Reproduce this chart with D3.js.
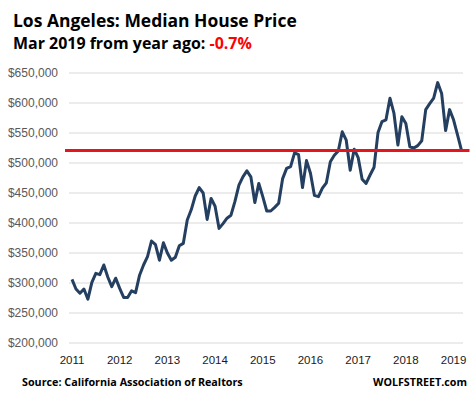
<!DOCTYPE html>
<html>
<head>
<meta charset="utf-8">
<script src="https://cdn.jsdelivr.net/npm/d3@7"></script>
<style>
  body { margin: 0; background: #fff; }
  svg { display: block; }
</style>
</head>
<body>
<div id="chart"></div>
<script>
// monthly median price, Jan 2011 .. Mar 2019 (in $)
var prices = [
  306000, 290000, 283000, 290000, 273000, 301000, 316000, 314000, 330000, 310000, 294000, 308000,
  291000, 276000, 276000, 287000, 284000, 313000, 330000, 344000, 370000, 364000, 338000, 367000,
  350000, 338000, 343000, 362000, 366000, 405000, 422000, 445000, 459000, 450000, 406000, 441000,
  428000, 391000, 399000, 408000, 413000, 436000, 463000, 477000, 487000, 477000, 434000, 466000,
  444000, 420000, 420000, 426000, 433000, 474000, 491000, 494000, 517000, 514000, 459000, 504000,
  483000, 446000, 444000, 458000, 467000, 502000, 513000, 520000, 552000, 538000, 488000, 523000,
  509000, 473000, 466000, 480000, 493000, 551000, 569000, 572000, 608000, 583000, 530000, 577000,
  566000, 527000, 525000, 529000, 537000, 589000, 599000, 608000, 634000, 616000, 554000, 589000,
  572000, 547000, 521000
];
var years = ["2011", "2012", "2013", "2014", "2015", "2016", "2017", "2018", "2019"];
var yTicks = [200000, 250000, 300000, 350000, 400000, 450000, 500000, 550000, 600000, 650000];

var width = 475, height = 395;

var svg = d3.select("#chart").append("svg")
  .attr("width", width)
  .attr("height", height);

// scales
var x = d3.scaleLinear().domain([0, prices.length - 1]).range([72, 461.5]);
var y = d3.scaleLinear().domain([200000, 650000]).range([343, 73]);

// fit text to a target width
function fit(sel, w) {
  var len = sel.node().getComputedTextLength();
  var fs = parseFloat(sel.attr("font-size"));
  sel.attr("font-size", (fs * w / len).toFixed(2));
}

// gridlines
svg.append("g").selectAll("line")
  .data(yTicks)
  .enter().append("line")
  .attr("x1", 69).attr("x2", 463)
  .attr("y1", d => y(d)).attr("y2", d => y(d))
  .attr("stroke", "#d9d9d9")
  .attr("stroke-width", 1);

// y labels
var fmt = d3.format(",");
svg.append("g").selectAll("text")
  .data(yTicks)
  .enter().append("text")
  .attr("x", 58)
  .attr("y", d => y(d))
  .attr("dy", "0.35em")
  .attr("text-anchor", "end")
  .attr("font-family", "Liberation Sans, Arial, sans-serif")
  .attr("font-size", 12)
  .attr("fill", "#595959")
  .text(d => "$" + fmt(d));

// x labels
svg.append("g").selectAll("text")
  .data(years)
  .enter().append("text")
  .attr("x", (d, i) => x(i * 12))
  .attr("y", 364)
  .attr("text-anchor", "middle")
  .attr("font-family", "Liberation Sans, Arial, sans-serif")
  .attr("font-size", 11.5)
  .attr("fill", "#1a1a1a")
  .text(d => d);

// price line
var line = d3.line()
  .x((d, i) => x(i))
  .y(d => y(d));

svg.append("path")
  .datum(prices)
  .attr("d", line)
  .attr("fill", "none")
  .attr("stroke", "#243f60")
  .attr("stroke-width", 3)
  .attr("stroke-linejoin", "round");

// red reference line at latest value
var last = prices[prices.length - 1];
svg.append("line")
  .attr("x1", x(0) - 7).attr("x2", x(prices.length - 1) + 8)
  .attr("y1", y(last)).attr("y2", y(last))
  .attr("stroke", "#e3161d")
  .attr("stroke-width", 3);

// titles
var t1 = svg.append("text")
  .attr("x", 13).attr("y", 27)
  .attr("font-family", "Open Sans, sans-serif")
  .attr("font-weight", "bold")
  .attr("font-size", 20)
  .attr("fill", "#000")
  .text("Los Angeles: Median House Price");
fit(t1, 284);

var t2 = svg.append("text")
  .attr("x", 13).attr("y", 49)
  .attr("font-family", "Open Sans, sans-serif")
  .attr("font-weight", "bold")
  .attr("font-size", 16)
  .attr("fill", "#000");
t2.append("tspan").text("Mar 2019 from year ago: ");
t2.append("tspan").attr("fill", "#ff0000").text("-0.7%");
fit(t2, 239);

// footer
var s1 = svg.append("text")
  .attr("x", 22).attr("y", 386)
  .attr("font-family", "Open Sans, sans-serif")
  .attr("font-weight", "bold")
  .attr("font-size", 12)
  .attr("fill", "#000")
  .text("Source: California Association of Realtors");
fit(s1, 221);

var s2 = svg.append("text")
  .attr("x", 467).attr("y", 386)
  .attr("text-anchor", "end")
  .attr("font-family", "Open Sans, sans-serif")
  .attr("font-weight", "bold")
  .attr("font-size", 12)
  .attr("fill", "#000")
  .text("WOLFSTREET.com");
fit(s2, 94);
</script>
</body>
</html>
